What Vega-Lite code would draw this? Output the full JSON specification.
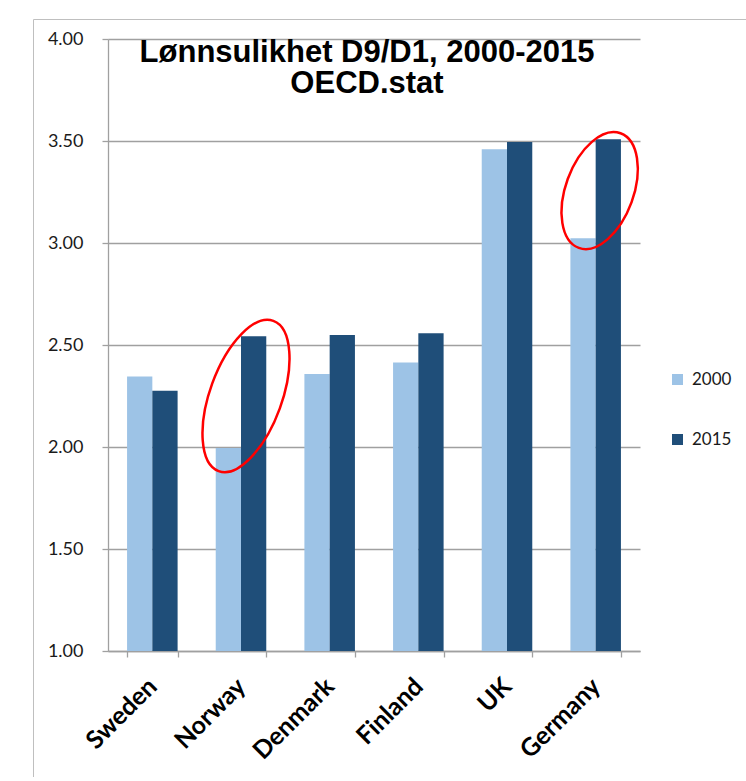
{
  "$schema": "https://vega.github.io/schema/vega-lite/v6.json",
  "width": 720,
  "height": 758,
  "autosize": {"type": "none"},
  "padding": {"left": 33, "top": 19, "right": 0, "bottom": 0},
  "background": "white",
  "config": {
    "view": {"stroke": "#bfbfbf", "strokeWidth": 1},
    "axis": {"domainColor": "#a0a0a0", "tickColor": "#a0a0a0", "gridColor": "#a0a0a0", "domainWidth": 1.3, "tickWidth": 1.3, "gridWidth": 1.3}
  },
  "title": {
    "text": ["Lønnsulikhet D9/D1, 2000-2015", "OECD.stat"],
    "orient": "top",
    "anchor": "middle",
    "frame": "group",
    "baseline": "top",
    "offset": -81,
    "dx": -26,
    "font": "Liberation Sans",
    "fontSize": 31,
    "fontWeight": "bold",
    "color": "#000000",
    "lineHeight": 31
  },
  "layer": [
    {
      "data": {
        "values": [
          {"country": "Sweden", "year": "2000", "value": 2.345},
          {"country": "Sweden", "year": "2015", "value": 2.276},
          {"country": "Norway", "year": "2000", "value": 1.995},
          {"country": "Norway", "year": "2015", "value": 2.543},
          {"country": "Denmark", "year": "2000", "value": 2.358},
          {"country": "Denmark", "year": "2015", "value": 2.549},
          {"country": "Finland", "year": "2000", "value": 2.414},
          {"country": "Finland", "year": "2015", "value": 2.557},
          {"country": "UK", "year": "2000", "value": 3.46},
          {"country": "UK", "year": "2015", "value": 3.495},
          {"country": "Germany", "year": "2000", "value": 3.023},
          {"country": "Germany", "year": "2015", "value": 3.508}
        ]
      },
      "mark": {"type": "bar"},
      "encoding": {
        "x": {
          "field": "country",
          "type": "nominal",
          "sort": ["Sweden", "Norway", "Denmark", "Finland", "UK", "Germany"],
          "scale": {"range": [75, 607], "paddingInner": 0.43, "paddingOuter": 0.215},
          "axis": {
            "orient": "bottom",
            "offset": -126,
            "tickBand": "extent",
            "tickSize": 6,
            "labelAngle": -45,
            "labelAlign": "right",
            "labelBaseline": "middle",
            "labelFont": "Lato",
            "labelFontWeight": "bold",
            "labelFontSize": 25,
            "labelColor": "#000000",
            "labelPadding": 25,
            "title": null
          }
        },
        "xOffset": {"field": "year", "type": "nominal", "scale": {"paddingInner": 0, "paddingOuter": 0}},
        "y": {
          "field": "value",
          "type": "quantitative",
          "scale": {"domain": [1, 4], "range": [632, 20], "nice": false, "zero": false},
          "axis": {
            "offset": -75,
            "values": [1, 1.5, 2, 2.5, 3, 3.5, 4],
            "format": ".2f",
            "grid": true,
            "tickSize": 6,
            "labelFont": "Lato",
            "labelFontSize": 18,
            "labelColor": "#1a1a1a",
            "labelPadding": 19,
            "title": null
          }
        },
        "y2": {"datum": 1},
        "color": {
          "field": "year",
          "type": "nominal",
          "scale": {"domain": ["2000", "2015"], "range": ["#9dc3e6", "#1f4e79"]},
          "legend": {
            "orient": "none",
            "legendX": 636,
            "legendY": 352,
            "title": null,
            "symbolType": "square",
            "symbolSize": 121,
            "symbolStrokeWidth": 0,
            "labelFont": "Lato",
            "labelFontSize": 17,
            "labelColor": "#1a1a1a",
            "labelOffset": 6,
            "rowPadding": 42
          }
        }
      }
    },
    {
      "data": {"values": [{"country": "Norway", "value": 2.25}]},
      "mark": {
        "type": "point",
        "shape": "M0,-1C0.2485,-1,0.45,-0.5523,0.45,0C0.45,0.5523,0.2485,1,0,1C-0.2485,1,-0.45,0.5523,-0.45,0C-0.45,-0.5523,-0.2485,-1,0,-1Z",
        "size": 25600,
        "angle": 20,
        "filled": false,
        "stroke": "#ff0000",
        "strokeWidth": 2.5,
        "opacity": 1,
        "xOffset": 5
      },
      "encoding": {
        "x": {"field": "country", "type": "nominal", "sort": ["Sweden", "Norway", "Denmark", "Finland", "UK", "Germany"]},
        "y": {"field": "value", "type": "quantitative"}
      }
    },
    {
      "data": {"values": [{"country": "Germany", "value": 3.257}]},
      "mark": {
        "type": "point",
        "shape": "M0,-1C0.3076,-1,0.557,-0.5523,0.557,0C0.557,0.5523,0.3076,1,0,1C-0.3076,1,-0.557,0.5523,-0.557,0C-0.557,-0.5523,-0.3076,-1,0,-1Z",
        "size": 14884,
        "angle": 20,
        "filled": false,
        "stroke": "#ff0000",
        "strokeWidth": 2.5,
        "opacity": 1,
        "xOffset": 4
      },
      "encoding": {
        "x": {"field": "country", "type": "nominal", "sort": ["Sweden", "Norway", "Denmark", "Finland", "UK", "Germany"]},
        "y": {"field": "value", "type": "quantitative"}
      }
    }
  ]
}
